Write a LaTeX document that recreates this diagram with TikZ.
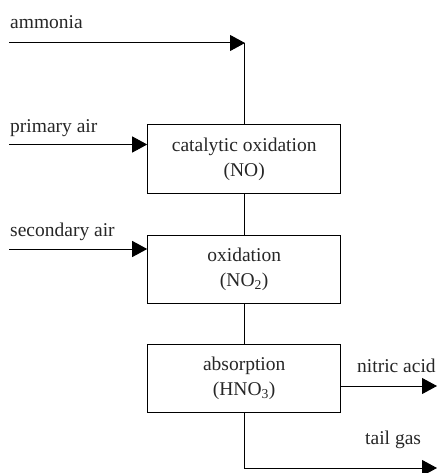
\documentclass[tikz,border=0pt]{standalone}
\usepackage{fontspec}
\setmainfont{Liberation Serif}
\usetikzlibrary{arrows.meta}
\begin{document}
\begin{tikzpicture}[x=1pt,y=-1pt,
  box/.style={draw, line width=1pt, minimum width=193pt, minimum height=68pt, align=center, inner sep=0pt, font=\fontsize{19.5}{25}\selectfont, text=black!85},
  lbl/.style={anchor=base west, inner sep=0pt, font=\fontsize{19.5}{25}\selectfont, text=black!85},
  flow/.style={line width=1pt, -{Triangle[length=15pt,width=16pt]}},
  pipe/.style={line width=1pt}]
\useasboundingbox (0,0) rectangle (438,473);
\node[box] (b1) at (244.2,159) {catalytic oxidation\\(NO)};
\node[box] (b2) at (244.2,269) {oxidation\\(NO\textsubscript{2})};
\node[box] (b3) at (244.2,378.5) {absorption\\(HNO\textsubscript{3})};
\node[lbl] (lam) at (10,29) {ammonia};
\node[lbl] (lpa) at (10,133) {primary air};
\node[lbl] (lsa) at (10,236) {secondary air};
\node[lbl] (lna) at (357,372) {nitric acid};
\node[lbl] (ltg) at (365,444) {tail gas};
\coordinate (a0) at (9,43);
\coordinate (aj) at (245,43);
\coordinate (p0) at (9,144.5);
\coordinate (s0) at (9,249);
\coordinate (na) at (437,386);
\coordinate (tg) at (437,468);
\draw[flow] (a0) -- (aj);
\draw[pipe] (aj -| b1.north) -- (b1.north);
\draw[flow] (p0) -- (p0 -| b1.west);
\draw[flow] (s0) -- (s0 -| b2.west);
\draw[pipe] (b1.south) -- (b2.north);
\draw[pipe] (b2.south) -- (b3.north);
\draw[flow] (na -| b3.east) -- (na);
\draw[flow] (b3.south) |- (tg);
\end{tikzpicture}
\end{document}
